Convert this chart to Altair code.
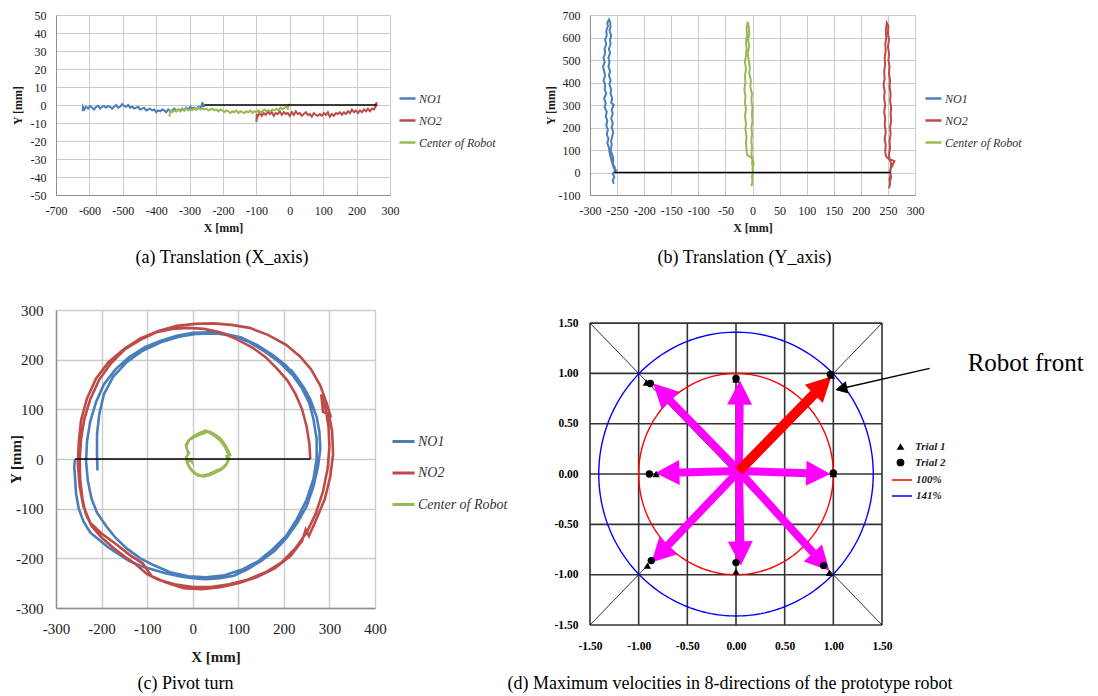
import math
import altair as alt
import numpy as np
import pandas as pd

FONT = "Liberation Serif"
SERIES = ["NO1", "NO2", "Center of Robot"]
SERIES_COLORS = ["#4A7EBB", "#BE4B48", "#98B954"]
GRID = "#CBCBCB"
DOMAIN = "#8E8E8E"
HYPHEN = "replace(datum.label, '\u2212', '-')"

# ---------------- (a) Translation (X_axis) ----------------
A_X_TICKS = list(range(-700, 301, 100))
A_Y_TICKS = list(range(-50, 51, 10))
A_NO1 = [(-620, -3.5), (-619, -1), (-615, -2.5), (-610, -1), (-604, -2), (-598, -0.5), (-592, -1.5),
         (-586, -2.5), (-580, -1), (-574, -0.5), (-568, -2), (-562, -1), (-556, -0.5), (-550, -1.5),
         (-544, -0.5), (-538, -1), (-532, -2), (-526, -1), (-520, 0), (-514, -1.5), (-508, -1),
         (-502, 0.5), (-496, -0.5), (-490, -1), (-484, 0), (-478, -1.5), (-472, -1), (-466, -2),
         (-460, -1.5), (-454, -1), (-448, -2.5), (-442, -2), (-436, -1.5), (-430, -3), (-424, -2.5),
         (-418, -2), (-412, -3), (-406, -2.5), (-400, -4), (-394, -3), (-388, -3.5), (-382, -2.5),
         (-376, -3), (-370, -4), (-364, -2.5), (-358, -3.5), (-352, -3), (-346, -2), (-340, -3.5),
         (-334, -2.5), (-328, -3), (-322, -2), (-316, -3), (-310, -1.5), (-304, -2.5), (-298, -1),
         (-292, -2), (-286, -1.5), (-280, -2.5), (-274, -1), (-268, -1.5), (-264, -0.5), (-262, 1.5),
         (-260, -1), (-258, 0), (-255, -1)]
A_NO2 = [(-100, -9.5), (-99, -5), (-96, -6.5), (-90, -4), (-84, -6), (-78, -4.5), (-72, -5.5), (-66, -3.5),
         (-60, -5), (-54, -4), (-48, -6), (-42, -4.5), (-36, -5), (-30, -3.5), (-24, -5.5), (-18, -4),
         (-12, -5), (-6, -4.5), (0, -6), (6, -4), (12, -5.5), (18, -3.5), (24, -5), (30, -4.5), (36, -6),
         (42, -5), (48, -4), (54, -5.5), (60, -5), (66, -6.5), (72, -4.5), (78, -5.5), (84, -6), (90, -5),
         (96, -6), (102, -4.5), (108, -5.5), (114, -4), (120, -6.5), (126, -5), (132, -6), (138, -4.5),
         (144, -5), (150, -4), (156, -5.5), (162, -4), (168, -5), (174, -3.5), (180, -4.5), (186, -2.5),
         (192, -4), (198, -3), (204, -4.5), (210, -3), (216, -4), (222, -2.5), (228, -3.5), (234, -2),
         (240, -3.5), (246, -2), (252, -2.5), (256, -1), (258, 0.5), (260, 1.5), (259, -1)]
A_CENTER = [(-360, -6.5), (-358, -3), (-352, -4), (-346, -3), (-340, -3.5), (-334, -2.5), (-328, -3.5),
            (-322, -2.5), (-316, -3), (-310, -2), (-304, -3), (-298, -2.5), (-292, -3), (-286, -2),
            (-280, -2.5), (-274, -1.5), (-268, -2.5), (-262, -2), (-256, -2.5), (-250, -2), (-244, -3),
            (-238, -2.5), (-232, -2), (-226, -3), (-220, -2.5), (-214, -3.5), (-208, -2.5), (-202, -3),
            (-196, -4), (-190, -3), (-184, -3.5), (-178, -4.5), (-172, -3.5), (-166, -4), (-160, -3),
            (-154, -4.5), (-148, -3.5), (-142, -4), (-136, -4.5), (-130, -3.5), (-124, -4), (-118, -3),
            (-112, -4.5), (-106, -3.5), (-100, -4), (-94, -3), (-88, -4), (-82, -3.5), (-76, -2.5),
            (-70, -3.5), (-64, -3), (-58, -3.5), (-52, -2.5), (-46, -3), (-40, -2), (-34, -3), (-28, -1.5),
            (-22, -2.5), (-16, -1.5), (-10, -1), (-6, -2), (-3, 0), (0, 0.5)]
A_ZERO = [-255, 260]

# ---------------- (b) Translation (Y_axis) ----------------
B_X_TICKS = list(range(-300, 301, 50))
B_Y_TICKS = list(range(-100, 701, 100))
B_NO1 = [(-256, -50), (-258, -35), (-255, -20), (-258, -5), (-252, 10), (-256, 20), (-258, 35), (-260, 50),
         (-262, 70), (-264, 90), (-265, 110), (-268, 130), (-266, 150), (-269, 170), (-267, 190),
         (-270, 210), (-268, 230), (-271, 250), (-269, 270), (-273, 290), (-271, 310), (-274, 330),
         (-270, 350), (-273, 370), (-272, 390), (-275, 410), (-272, 430), (-274, 450), (-276, 470),
         (-273, 490), (-275, 510), (-272, 530), (-273, 550), (-270, 570), (-272, 590), (-269, 610),
         (-270, 630), (-267, 650), (-268, 665), (-265, 680), (-263, 670), (-262, 650), (-264, 630),
         (-261, 610), (-263, 590), (-262, 570), (-265, 550), (-263, 530), (-266, 510), (-264, 490),
         (-266, 470), (-263, 450), (-265, 430), (-262, 410), (-264, 390), (-261, 370), (-262, 350),
         (-259, 330), (-261, 310), (-256, 300), (-260, 280), (-258, 260), (-261, 240), (-258, 220),
         (-260, 200), (-257, 180), (-259, 160), (-261, 140), (-260, 120), (-262, 100), (-259, 80),
         (-257, 60), (-258, 40), (-254, 20), (-255, 0)]
B_NO2 = [(252, -70), (254, -50), (253, -30), (255, -10), (254, 10), (257, 25), (260, 40), (262, 50),
         (258, 55), (252, 60), (247, 70), (245, 90), (246, 120), (244, 150), (246, 180), (244, 210),
         (245, 240), (243, 270), (245, 300), (243, 330), (244, 360), (242, 390), (244, 420), (243, 450),
         (245, 480), (244, 510), (246, 540), (245, 570), (247, 600), (246, 630), (248, 665), (251, 650),
         (250, 620), (252, 590), (250, 560), (252, 530), (251, 500), (253, 470), (252, 440), (254, 410),
         (253, 380), (255, 350), (254, 320), (256, 290), (255, 260), (256, 230), (254, 200), (255, 170),
         (253, 140), (254, 110), (252, 80), (253, 60), (256, 40), (255, 20), (254, 0), (256, -20),
         (254, -40)]
B_CENTER = [(-2, -60), (0, -40), (-1, -20), (1, 0), (0, 20), (2, 40), (1, 55), (-2, 65), (-6, 72),
            (-10, 78), (-11, 100), (-12, 130), (-11, 160), (-13, 190), (-12, 220), (-14, 250), (-12, 280),
            (-14, 310), (-13, 340), (-15, 370), (-13, 400), (-14, 430), (-12, 460), (-14, 490), (-12, 520),
            (-11, 550), (-12, 580), (-10, 610), (-11, 640), (-9, 670), (-7, 650), (-6, 620), (-8, 590),
            (-6, 560), (-9, 530), (-7, 500), (-5, 470), (-6, 440), (-3, 410), (-4, 380), (-1, 350),
            (-2, 320), (0, 290), (-1, 260), (0, 230), (-2, 200), (-1, 170), (-2, 140), (-1, 110), (-2, 80),
            (0, 60), (-1, 40), (1, 20), (0, 0), (-1, -20)]
B_ZERO = [-255, 255]

# ---------------- (c) Pivot turn ----------------
C_X_TICKS = list(range(-300, 401, 100))
C_Y_TICKS = list(range(-300, 301, 100))
C_NO1 = [(-258, 0), (-260, -15), (-258, -40), (-256, -70), (-250, -100), (-240, -125), (-225, -148),
         (-205, -163), (-185, -178), (-165, -190), (-140, -205), (-115, -215), (-90, -222), (-60, -230),
         (-30, -236), (0, -240), (30, -242), (60, -240), (90, -235), (120, -222), (150, -205), (180, -185),
         (205, -160), (230, -128), (250, -95), (265, -55), (275, -15), (280, 20), (278, 55), (272, 85),
         (262, 108), (268, 95), (258, 120), (245, 142), (230, 162), (222, 172), (215, 180), (225, 168),
         (205, 188), (175, 210), (140, 230), (105, 245), (70, 252), (35, 255), (0, 254), (-35, 248),
         (-70, 238), (-105, 225), (-140, 205), (-170, 180), (-195, 150), (-212, 115), (-225, 75),
         (-232, 35), (-234, -5), (-230, -45), (-222, -80), (-210, -108), (-190, -135), (-170, -158),
         (-145, -180), (-115, -200), (-85, -214), (-50, -228), (-10, -236), (30, -238), (70, -234),
         (110, -222), (145, -205), (175, -182), (205, -155), (228, -122), (250, -82), (265, -40), (272, 0),
         (272, 40), (265, 80), (256, 112), (240, 142), (220, 168), (190, 195), (160, 215), (125, 235),
         (90, 248), (50, 253), (10, 252), (-30, 246), (-70, 235), (-110, 218), (-145, 195), (-175, 165),
         (-195, 130), (-205, 90), (-210, 50), (-210, 10), (-209, -23)]
C_NO2 = [(258, 0), (256, 30), (250, 65), (240, 100), (226, 130), (208, 158), (185, 182), (160, 205),
         (130, 225), (95, 242), (60, 255), (25, 262), (-10, 264), (-45, 262), (-80, 255), (-115, 240),
         (-150, 220), (-180, 192), (-205, 160), (-225, 120), (-238, 80), (-245, 40), (-248, 0), (-247, -40),
         (-242, -80), (-235, -110), (-222, -135), (-200, -158), (-175, -178), (-150, -196), (-125, -212),
         (-100, -232), (-75, -243), (-40, -252), (0, -258), (40, -258), (80, -252), (120, -243),
         (160, -228), (195, -208), (225, -180), (250, -148), (270, -110), (286, -65), (296, -20), (300, 25),
         (298, 65), (292, 100), (282, 130), (286, 95), (302, 88), (294, 112), (280, 148), (260, 180),
         (236, 206), (205, 230), (165, 250), (125, 264), (85, 270), (45, 273), (5, 272), (-35, 268),
         (-75, 258), (-115, 243), (-150, 222), (-185, 195), (-212, 162), (-232, 122), (-245, 78),
         (-250, 35), (-252, -10), (-248, -55), (-240, -95), (-225, -128), (-200, -150), (-170, -170),
         (-140, -192), (-110, -210), (-90, -236), (-60, -248), (-20, -260), (20, -262), (60, -258),
         (100, -250), (140, -238), (180, -220), (215, -195), (240, -165), (248, -142), (255, -155),
         (272, -120), (290, -80), (302, -35), (308, 10), (306, 55), (298, 95)]
C_CENTER = [(-10, 12), (-14, 25), (-8, 38), (2, 46), (14, 52), (28, 57), (40, 54), (52, 47), (62, 40),
            (70, 30), (76, 20), (82, 8), (74, 6), (78, -4), (72, -14), (62, -22), (50, -27), (38, -32),
            (24, -35), (10, -33), (0, -26), (-8, -16), (-13, -6), (-14, 4), (-8, 12), (-12, 18), (-15, 28),
            (-9, 38), (4, 44), (18, 50), (32, 55), (46, 48), (60, 38), (70, 26), (77, 12), (80, 2),
            (74, -10), (64, -19), (50, -24), (36, -30), (20, -34), (6, -29), (-4, -20), (-12, -8), (-6, -2),
            (-2, -6), (-4, 2)]
C_ZERO = [-258, 258]

# ---------------- (d) Maximum velocities ----------------
D_TICKS = [-1.5, -1.0, -0.5, 0.0, 0.5, 1.0, 1.5]
D_YTOP = 1.63
D_ORIGIN = (0.03, 0.03)
D_ARROW_TIPS = [(0.97, 0.0), (0.04, 0.93), (-0.83, 0.01), (0.05, -0.91), (-0.85, 0.9), (-0.87, -0.88),
                (0.96, -0.96)]
D_FRONT_TIP = [(0.98, 0.97)]
D_TRIAL1 = [(-0.92, 0.91), (0.0, 0.94), (0.98, 0.98), (-0.82, 0.0), (1.0, 0.0), (0.0, -0.97),
            (-0.91, -0.91), (0.96, -0.98)]
D_TRIAL2 = [(-0.88, 0.9), (0.0, 0.95), (0.97, 0.99), (-0.89, 0.0), (1.0, 0.01), (0.0, -0.88),
            (-0.87, -0.86), (0.9, -0.91)]
D_RINGS = [("100%", 1.00), ("141%", 1.41)]
D_RING_COLORS = ["#FF0000", "#0000FF"]
D_DIAG = [(-1.5, 1.5, 1.5, -1.5), (-1.5, -1.5, 1.5, 1.5)]
D_NOTE_LINE = [(1.99, 1.05, 1.06, 0.845)]
D_NOTE_TIP = [(1.02, 0.835, 1.99, 1.05)]
D_NOTE_TEXT = [(2.38, 1.10, "Robot front")]

HEAD = "M0,0L0.72,1.4L-0.72,1.4Z"


def traj_df(series_pts):
    rows = []
    for name, pts in zip(SERIES, series_pts):
        for i, (x, y) in enumerate(pts):
            rows.append({"series": name, "x": x, "y": y, "idx": i})
    return pd.DataFrame(rows)


def traj_panel(pts, zero, xt, yt, w, h, st, caption):
    df = traj_df(pts)
    xs = alt.X("x:Q", scale=alt.Scale(domain=[xt[0], xt[-1]], nice=False, zero=False),
               axis=alt.Axis(values=xt, title="X [mm]", grid=True, gridColor=GRID, gridWidth=st["gw"],
                             domainColor=DOMAIN, domainWidth=st["gw"], ticks=False, labelFlush=False,
                             labelOverlap=False, labelExpr=HYPHEN, labelFont=FONT, labelFontSize=st["fs"],
                             labelColor="#1a1a1a", labelPadding=st["lp"], titleFont=FONT,
                             titleFontSize=st["tfs"], titleFontWeight="bold", titleColor="#1a1a1a",
                             titlePadding=st["tp"]))
    ys = alt.Y("y:Q", scale=alt.Scale(domain=[yt[0], yt[-1]], nice=False, zero=False),
               axis=alt.Axis(values=yt, title="Y [mm]", grid=True, gridColor=GRID, gridWidth=st["gw"],
                             domainColor=DOMAIN, domainWidth=st["gw"], ticks=False, labelOverlap=False,
                             labelExpr=HYPHEN, labelFont=FONT, labelFontSize=st["fs"], labelColor="#1a1a1a",
                             labelPadding=st["lp"], titleFont=FONT, titleFontSize=st["tfs"],
                             titleFontWeight="bold", titleColor="#1a1a1a", titleX=st["tx"], titleY=h / 2))
    leg = alt.Legend(orient="none", legendX=st["lx"], legendY=st["ly"], title=None, padding=0,
                     symbolType="stroke", symbolSize=st["ss"], symbolStrokeWidth=st["sw"],
                     labelFont=FONT, labelFontSize=st["lfs"], labelFontStyle="italic", labelColor="#333333",
                     labelOffset=2, rowPadding=st["rp"])
    lines = alt.Chart(df).mark_line(strokeWidth=st["lw"]).encode(
        x=xs, y=ys,
        color=alt.Color("series:N", scale=alt.Scale(domain=SERIES, range=SERIES_COLORS), legend=leg),
        order=alt.Order("idx:Q"))
    zdf = pd.DataFrame({"x": [zero[0]], "x2": [zero[1]], "y": [0]})
    zline = alt.Chart(zdf).mark_rule(color="black", strokeWidth=1.5).encode(x=xs, x2="x2:Q", y=ys)
    return alt.layer(lines, zline).properties(
        width=w, height=h,
        title=alt.TitleParams(text=caption["text"], orient="bottom", anchor="middle", frame="group",
                              font=FONT, fontSize=18, fontWeight="normal", color="black",
                              offset=caption["offset"], dx=caption["dx"]))


ST_AB = dict(gw=1, fs=12, lp=10, tfs=12, tp=6, tx=-32, lx=342, ly=74, ss=256, sw=2.5, lfs=12, rp=6, lw=2)
ST_C = dict(gw=1.4, fs=15, lp=13, tfs=15, tp=13, tx=-33, lx=335, ly=119, ss=484, sw=3, lfs=14, rp=11.5, lw=2.6)

pa = traj_panel([A_NO1, A_NO2, A_CENTER], A_ZERO, A_X_TICKS, A_Y_TICKS, 334, 180, ST_AB,
                {"text": "(a) Translation (X_axis)", "offset": 16, "dx": -1})
st_b = dict(ST_AB, tx=-33, lx=334)
pb = traj_panel([B_NO1, B_NO2, B_CENTER], B_ZERO, B_X_TICKS, B_Y_TICKS, 325, 180, st_b,
                {"text": "(b) Translation (Y_axis)", "offset": 16, "dx": -8})
pc = traj_panel([C_NO1, C_NO2, C_CENTER], C_ZERO, C_X_TICKS, C_Y_TICKS, 319, 298, ST_C,
                {"text": "(c) Pivot turn", "offset": 11, "dx": -30})

# ---- panel (d) ----
dxe = alt.X("x:Q", scale=alt.Scale(domain=[-1.5, 1.5], nice=False, zero=False),
            axis=alt.Axis(values=D_TICKS, format=".2f", labelExpr=HYPHEN, title=None, grid=False, domain=False,
                          ticks=False, labelFlush=False, labelOverlap=False, labelFont=FONT, labelFontSize=11.5,
                          labelFontWeight="bold", labelColor="black", labelPadding=15))
dye = alt.Y("y:Q", scale=alt.Scale(domain=[-1.5, D_YTOP], nice=False, zero=False),
            axis=alt.Axis(values=D_TICKS, format=".2f", labelExpr=HYPHEN, title=None, grid=False, domain=False,
                          ticks=False, labelOverlap=False, labelFont=FONT, labelFontSize=11.5,
                          labelFontWeight="bold", labelColor="black", labelPadding=12))

vgrid = pd.DataFrame({"x": D_TICKS, "y": [D_TICKS[0]] * len(D_TICKS), "y2": [D_TICKS[-1]] * len(D_TICKS)})
hgrid = pd.DataFrame({"y": D_TICKS, "x": [D_TICKS[0]] * len(D_TICKS), "x2": [D_TICKS[-1]] * len(D_TICKS)})
g1 = alt.Chart(vgrid).mark_rule(color="#333333", strokeWidth=1.6).encode(x=dxe, y=dye, y2="y2:Q")
g2 = alt.Chart(hgrid).mark_rule(color="#333333", strokeWidth=1.6).encode(y=dye, x=dxe, x2="x2:Q")
diag = alt.Chart(pd.DataFrame(D_DIAG, columns=["x", "y", "x2", "y2"])).mark_rule(
    color="black", strokeWidth=0.8).encode(x=dxe, y=dye, x2="x2:Q", y2="y2:Q")

theta = np.linspace(0, 2 * np.pi, 241)
ring_rows = []
for name, r in D_RINGS:
    for i, t in enumerate(theta):
        ring_rows.append({"ring": name, "x": r * np.cos(t), "y": r * np.sin(t), "idx": i})
ring_df = pd.DataFrame(ring_rows)
rings = alt.Chart(ring_df).mark_line(strokeWidth=1.4).encode(
    x=dxe, y=dye, order=alt.Order("idx:Q"),
    color=alt.Color("ring:N", scale=alt.Scale(domain=[n for n, _ in D_RINGS], range=D_RING_COLORS),
                    legend=alt.Legend(orient="none", legendX=301, legendY=159, title=None, padding=0,
                                      symbolType="stroke", symbolSize=400, symbolStrokeWidth=1.5,
                                      labelFont=FONT, labelFontSize=11, labelFontWeight="bold",
                                      labelFontStyle="italic", labelColor="#222222", labelOffset=3,
                                      rowPadding=0)))


def arrow_parts(tips, back):
    ox, oy = D_ORIGIN
    shaft, head = [], []
    for tx, ty in tips:
        ddx, ddy = tx - ox, ty - oy
        L = math.hypot(ddx, ddy)
        ux, uy = ddx / L, ddy / L
        shaft.append({"x": ox, "y": oy, "x2": tx - back * ux, "y2": ty - back * uy})
        head.append({"x": tx, "y": ty, "ang": (90 - math.degrees(math.atan2(ddy, ddx))) % 360})
    return pd.DataFrame(shaft), pd.DataFrame(head)


m_shaft, m_head = arrow_parts(D_ARROW_TIPS, 0.16)
r_shaft, r_head = arrow_parts(D_FRONT_TIP, 0.16)
ms = alt.Chart(m_shaft).mark_rule(color="#FF00FF", strokeWidth=8).encode(x=dxe, y=dye, x2="x2:Q", y2="y2:Q")
mh = alt.Chart(m_head).mark_point(shape=HEAD, filled=True, size=1200, color="#FF00FF", opacity=1).encode(
    x=dxe, y=dye, angle=alt.Angle("ang:Q", scale=None))
rs = alt.Chart(r_shaft).mark_rule(color="#FF0000", strokeWidth=10).encode(x=dxe, y=dye, x2="x2:Q", y2="y2:Q")
rh = alt.Chart(r_head).mark_point(shape=HEAD, filled=True, size=1250, color="#FF0000", opacity=1).encode(
    x=dxe, y=dye, angle=alt.Angle("ang:Q", scale=None))

trial_rows = [{"trial": "Trial 1", "x": x, "y": y} for x, y in D_TRIAL1] + \
             [{"trial": "Trial 2", "x": x, "y": y} for x, y in D_TRIAL2]
marks = alt.Chart(pd.DataFrame(trial_rows)).mark_point(filled=True, color="black", opacity=1, size=55).encode(
    x=dxe, y=dye,
    shape=alt.Shape("trial:N", scale=alt.Scale(domain=["Trial 1", "Trial 2"], range=["triangle-up", "circle"]),
                    legend=alt.Legend(orient="none", legendX=305, legendY=131, title=None, padding=0,
                                      labelFont=FONT, labelFontSize=11, labelFontWeight="bold",
                                      labelFontStyle="italic", labelColor="#222222", symbolSize=60,
                                      symbolFillColor="black", symbolStrokeColor="black",
                                      rowPadding=2, labelOffset=9)))

note_line = alt.Chart(pd.DataFrame(D_NOTE_LINE, columns=["x", "y", "x2", "y2"])).mark_rule(
    color="black", strokeWidth=1.5).encode(x=dxe, y=dye, x2="x2:Q", y2="y2:Q")
nt = []
for tx, ty, fx, fy in D_NOTE_TIP:
    nt.append({"x": tx, "y": ty, "ang": (90 - math.degrees(math.atan2(ty - fy, tx - fx))) % 360})
note_head = alt.Chart(pd.DataFrame(nt)).mark_point(shape=HEAD, filled=True, size=300, color="black",
                                                   opacity=1).encode(
    x=dxe, y=dye, angle=alt.Angle("ang:Q", scale=None))
note_text = alt.Chart(pd.DataFrame(D_NOTE_TEXT, columns=["x", "y", "t"])).mark_text(
    align="left", baseline="middle", font=FONT, fontSize=25, color="black").encode(x=dxe, y=dye, text="t:N")

pdd = alt.layer(g1, g2, diag, rings, ms, mh, rs, rh, marks, note_line, note_head, note_text).properties(
    width=292, height=315,
    title=alt.TitleParams(text="(d) Maximum velocities in 8-directions of the prototype robot", orient="bottom",
                          anchor="middle", frame="group", font=FONT, fontSize=18, fontWeight="normal",
                          color="black", offset=23, dx=-6))

chart = alt.concat(pa, pb, pc, pdd, columns=2, spacing={"row": 115, "column": 200}, align="each",
                   bounds="flush").resolve_scale(color="independent", shape="independent").properties(
    padding={"left": 0, "top": 1, "right": 0, "bottom": 0}).configure_view(stroke="transparent", strokeWidth=0)

chart.save("out.html", embed_options={"renderer": "svg", "actions": False})
